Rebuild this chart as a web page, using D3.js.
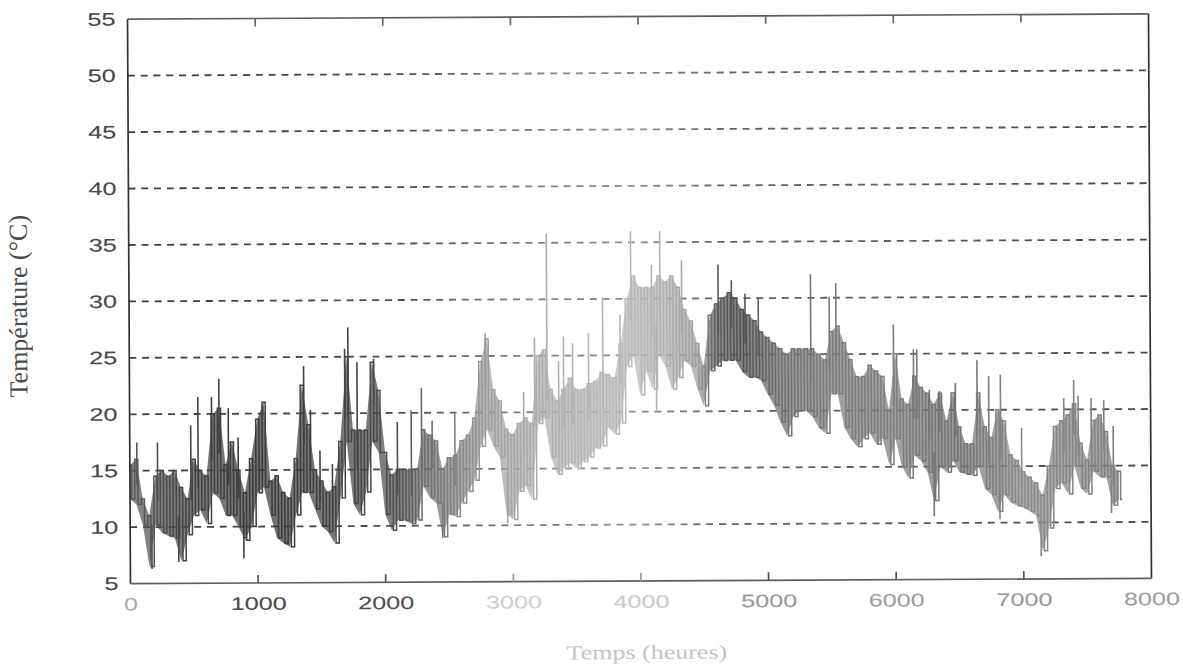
<!DOCTYPE html>
<html><head><meta charset="utf-8">
<script src="https://cdn.jsdelivr.net/npm/d3@7"></script>
<style>body{margin:0;background:#fff}svg{display:block}</style>
</head><body>
<svg id="c" width="1183" height="667"></svg>
<script>
// ---- data ----
const hours = [0,50,100,150,200,250,300,350,400,450,500,550,600,650,700,750,800,850,900,950,
1000,1050,1100,1150,1200,1250,1300,1350,1400,1450,1500,1550,1600,1650,1700,1750,1800,1850,1900,1950,
2000,2050,2100,2150,2200,2250,2300,2350,2400,2450,2500,2550,2600,2650,2700,2750,2800,2850,2900,2950,
3000,3050,3100,3150,3200,3250,3300,3350,3400,3450,3500,3550,3600,3650,3700,3750,3800,3850,3900,3950,
4000,4050,4100,4150,4200,4250,4300,4350,4400,4450,4500,4550,4600,4650,4700,4750,4800,4850,4900,4950,
5000,5050,5100,5150,5200,5250,5300,5350,5400,5450,5500,5550,5600,5650,5700,5750,5800,5850,5900,5950,
6000,6050,6100,6150,6200,6250,6300,6350,6400,6450,6500,6550,6600,6650,6700,6750,6800,6850,6900,6950,
7000,7050,7100,7150,7200,7250,7300,7350,7400,7450,7500,7550,7600,7650,7700,7750];
const tempMax = [15.5,16,12.5,11,14.5,15,14.5,15,13.5,12.5,16,15,14.5,20,20.5,15.5,17.5,15,13,16,
19.5,21,14,14.5,13,12.5,16,22.5,19,15,14,13,13.5,17.5,25,18.5,18.5,18.5,24.5,22,
16.5,14.5,15,15,15,15,18.5,18,17.5,15,16,16.2,17.5,18,19.5,24.5,26.5,22,21,18.5,
18,19,19.5,19,25,25.5,22,21,22,23,22,22,22.5,22.7,23.5,23.3,23,26,30,32,
31,31,31,32,31.5,32,31,29,28,26,24,28.5,29.5,30,30.5,30,29,28.5,28,27,
26.5,26,25.5,25,25.5,25.5,25.5,25.5,25,24.5,27,27.5,26,24.5,23,23,24,23.5,23,20,
25,21,20.5,23,22,21.5,20.5,21.5,19,21.5,18.5,17,17,21.5,18.5,17.5,20,19,16,15.5,
14.5,14,13.5,12.4,15,18.5,19,19.5,20.5,17,15.5,19,19.5,18,15,14.5];
const tempMin = [12.5,12,10.2,6.5,10.2,9.5,9.2,9,7,9.3,11,11.5,10.3,13,12.5,11,11,10,8.8,10,
13,13.5,11,9,8.5,8.2,11,13,13,11.5,10,9.5,8.5,12.5,17.5,12,11,13,17.5,16.5,
11,9.6,10.5,10.5,10.2,10.5,13.5,12.5,12,9,11,10.8,12,13,14,17,18.5,17,16,11,
10.5,13,13.5,12.3,19,19.5,16,14.5,15,15.5,15,15.6,16,16.8,17,18.6,18,19,24,25,
21.5,23.6,22,25,24,22,23,24.5,24,22,20.5,23.6,24,24.5,24.5,24.5,23.5,23,23,22.7,
21.5,20.5,19,17.8,19.5,20,20,19.5,18.5,18,21.5,21.5,18.5,17.5,16.8,17.5,18,17,17.5,15.2,
17.5,15,14,16,15.5,14.5,12,15,14.5,15.5,14.5,14.3,14.2,15,13,12.5,11,12.5,11.8,11.5,
11.3,11,10.6,7.5,9.5,13,13.5,12.5,15,13,12.5,14.5,14,14,11.5,12];
const spikeHours = [55,170,217,380,478,535,642,700,773,849,890,1365,1417,1490,1587,1687,1713,1783,1914,2097,
2206,2287,2370,2449,2548,2790,2958,3088,3175,3272,3363,3402,3473,3598,3710,3846,3932,4094,4130,4160,
4330,4616,4720,4826,4930,5340,5486,5538,5988,6144,6170,6267,6301,6346,6471,6641,6732,6816,6824,6988,
7137,7320,7398,7432,7534,7633,7690,7706];
const spikeTemps = [17.5,6.3,17.5,6.9,19,21.5,21.5,23.1,20.5,17.9,7.2,24.2,20.3,16.7,15.5,25.7,27.6,24.5,24.8,19.2,
20.2,22.2,19.3,8.9,20,27,10.2,21.8,26.6,35.8,24.5,26.7,26.1,27,30.1,28.6,36,33,20,36,
33.4,33,31.6,30.4,30.1,32.1,30.1,31.3,27.6,25.4,25.4,21.8,10.6,21.7,22.4,24.4,23,10.3,23.1,18.4,
7,21,22.6,21.2,21,20.8,10.8,18.5];
const xTicks = [0,1000,2000,3000,4000,5000,6000,7000,8000];
const yTicks = [5,10,15,20,25,30,35,40,45,50,55];
const yGrid = [10,15,20,25,30,35,40,45,50];

// ---- styles ----
const xTickColor = {0:'#ababab',1000:'#4a4a4a',2000:'#505050',3000:'#cfcfcf',4000:'#cacaca',5000:'#999',6000:'#9e9e9e',7000:'#999',8000:'#9e9e9e'};
const bandStops = [[0,'#5a5a5a'],[400,'#454545'],[1000,'#3a3a3a'],[1800,'#444'],[2100,'#505050'],[2300,'#6a6a6a'],
 [2600,'#888'],[2800,'#9c9c9c'],[3100,'#aaa'],[3500,'#b4b4b4'],[3900,'#b8b8b8'],[4200,'#b2b2b2'],[4450,'#9c9c9c'],
 [4600,'#5c5c5c'],[4800,'#505050'],[5100,'#6e6e6e'],[5500,'#7a7a7a'],[6000,'#7c7c7c'],[6500,'#707070'],[7000,'#8a8a8a'],[7750,'#7e7e7e']];
const gridStops = [[0,'#3e3e3e'],[2200,'#505050'],[3000,'#808080'],[4000,'#8e8e8e'],[4600,'#666'],[6000,'#5e5e5e'],[8000,'#484848']];

const svg = d3.select('#c');
const x = d3.scaleLinear().domain([0,8000]).range([129,1150]);
const y = d3.scaleLinear().domain([5,55]).range([581,16.5]);
const defs = svg.append('defs');
function grad(id, stops, h0, h1){
  const gr = defs.append('linearGradient').attr('id',id).attr('gradientUnits','userSpaceOnUse')
    .attr('x1',x(h0)).attr('x2',x(h1)).attr('y1',0).attr('y2',0);
  stops.forEach(s=>gr.append('stop').attr('offset',(s[0]-h0)/(h1-h0)).attr('stop-color',s[1]));
}
grad('bandG', bandStops, 0, 7750);
grad('gridG', gridStops, 0, 8000);

const g = svg.append('g').attr('transform','rotate(-0.3,640,300)');

// grid
g.append('g').selectAll('line').data(yGrid).join('line')
  .attr('x1',x(0)).attr('x2',x(8000)).attr('y1',d=>y(d)).attr('y2',d=>y(d))
  .attr('stroke','url(#gridG)').attr('stroke-width',1.8).attr('stroke-dasharray','7,5.8');

// band
const rows = hours.map((h,i)=>({h, hi:tempMax[i], lo:tempMin[i]}));
g.append('path').datum(rows)
  .attr('d', d3.area().x(d=>x(d.h)).y0(d=>y(d.lo)).y1(d=>y(d.hi)))
  .attr('fill','url(#bandG)').attr('opacity',0.72);
const zig = [];
rows.forEach((d,i)=>{ zig.push([d.h,d.hi]); zig.push([d.h+25,d.lo]); });
g.append('path').datum(zig)
  .attr('d', d3.line().curve(d3.curveStep).x(d=>x(d[0])).y(d=>y(d[1])))
  .attr('fill','none').attr('stroke','url(#bandG)').attr('stroke-width',1.5);

// spikes
function midAt(h){
  const i = Math.min(hours.length-2, Math.max(0, d3.bisectRight(hours,h)-1));
  const t = (h-hours[i])/(hours[i+1]-hours[i]);
  const hi = tempMax[i]+(tempMax[i+1]-tempMax[i])*t, lo = tempMin[i]+(tempMin[i+1]-tempMin[i])*t;
  return (hi+lo)/2;
}
g.append('g').selectAll('line').data(spikeHours.map((h,i)=>({h,v:spikeTemps[i]}))).join('line')
  .attr('x1',d=>x(d.h)).attr('x2',d=>x(d.h)).attr('y1',d=>y(midAt(d.h))).attr('y2',d=>y(d.v))
  .attr('stroke','url(#bandG)').attr('stroke-width',1.6);

// frame
const fr = g.append('g').attr('stroke-width',1.7).attr('fill','none');
fr.append('line').attr('x1',x(0)).attr('x2',x(0)).attr('y1',y(5)).attr('y2',y(55)).attr('stroke','#333');
fr.append('line').attr('x1',x(0)).attr('x2',x(8000)).attr('y1',y(55)).attr('y2',y(55)).attr('stroke','#5e5e5e');
fr.append('line').attr('x1',x(8000)).attr('x2',x(8000)).attr('y1',y(5)).attr('y2',y(55)).attr('stroke','#333');
fr.append('line').attr('x1',x(0)).attr('x2',x(8000)).attr('y1',y(5)).attr('y2',y(5)).attr('stroke','#5e5e5e');
// tick marks
const inner = xTicks.slice(1,-1);
fr.selectAll('.tb').data(inner).join('line').attr('class','tb')
  .attr('x1',d=>x(d)).attr('x2',d=>x(d)).attr('y1',y(5)).attr('y2',y(5)-8).attr('stroke',d=>(d===3000||d===4000)?'#999':'#555');
fr.selectAll('.tt').data(inner).join('line').attr('class','tt')
  .attr('x1',d=>x(d)).attr('x2',d=>x(d)).attr('y1',y(55)).attr('y2',y(55)+8).attr('stroke','#666');

// axes labels
const sx = 1.4;
const ya = g.append('g').attr('transform',`translate(${x(0)},0)`).call(d3.axisLeft(y).tickValues(yTicks).tickSize(0).tickPadding(0));
ya.select('.domain').remove();
ya.selectAll('text').attr('x',-12/sx).attr('transform',`scale(${sx},1)`)
  .attr('font-family','"Liberation Sans", Arial, sans-serif').attr('font-size',18).attr('fill','#484848')
  .attr('stroke','#484848').attr('stroke-width',0.12);
const xa = g.append('g').attr('transform',`translate(0,${y(5)})`).call(d3.axisBottom(x).tickValues(xTicks).tickSize(0).tickPadding(14).tickFormat(d3.format('d')));
xa.select('.domain').remove();
xa.selectAll('text').attr('transform',`scale(${sx},1)`)
  .attr('font-family','"Liberation Sans", Arial, sans-serif').attr('font-size',18).attr('fill',d=>xTickColor[d])
  .attr('stroke',d=>xTickColor[d]).attr('stroke-width',0.1);

g.append('text').attr('transform','translate(27,303) rotate(-90)').attr('text-anchor','middle')
  .attr('font-family','"Liberation Serif", "Times New Roman", serif').attr('font-size',26).attr('fill','#4a4a4a')
  .text('Température (°C)');
g.append('text').attr('transform','translate(645,659) scale(1.3,1)').attr('text-anchor','middle')
  .attr('font-family','"Liberation Serif", "Times New Roman", serif').attr('font-size',20).attr('fill','#c4c4c4')
  .text('Temps (heures)');
</script>
</body></html>
